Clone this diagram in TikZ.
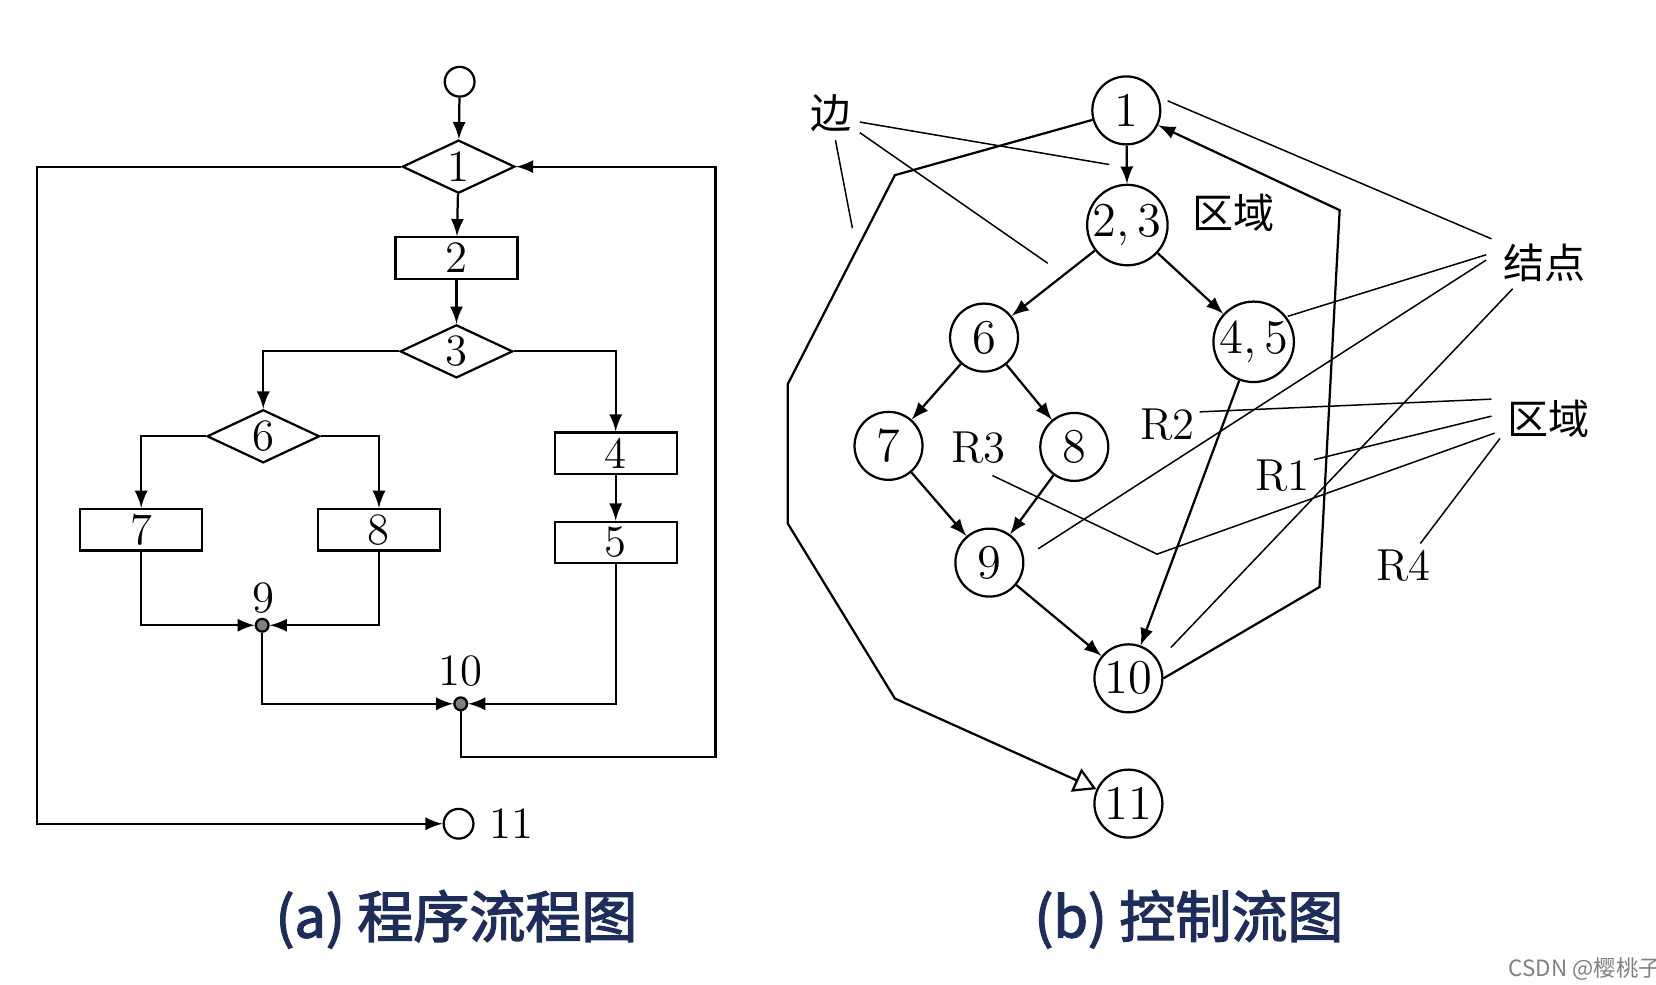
\documentclass[tikz,border=0pt]{standalone}
\usepackage{fontspec}
\newfontfamily\cjk{Noto Sans CJK SC}[AutoFakeBold=2.5]
\usetikzlibrary{arrows,shapes.geometric}
\definecolor{navy}{RGB}{31,45,90}
\begin{document}
\begin{tikzpicture}[x=0.01cm,y=-0.01cm,>=latex,semithick]
  \tikzstyle{every node}=[font=\fontsize{12}{12}\selectfont]
  \tikzstyle{dia}=[diamond,draw,aspect=2.2,minimum width=1.06cm,minimum height=0.5cm,inner sep=0pt]
  \tikzstyle{box}=[rectangle,draw,minimum width=1.15cm,minimum height=0.39cm,inner sep=0pt]
  \tikzstyle{dot}=[circle,draw,fill=gray,minimum size=0.12cm,inner sep=0pt]
  \tikzstyle{state}=[circle,draw,minimum size=0.64cm,inner sep=0pt,font=\fontsize{13}{13}\selectfont]
  \tikzstyle{ptr}=[thin]
  \useasboundingbox (0,0) rectangle (1560,927);

  % (a) program flowchart
  \node[circle,draw,minimum size=0.28cm,inner sep=0pt] (S) at (433,77) {};
  \node[dia] (D1) at (432,157) {1};
  \node[box] (B2) at (430,243) {2};
  \node[dia] (D3) at (430,331) {3};
  \node[dia] (D6) at (248,411) {6};
  \node[box] (B7) at (133,499) {7};
  \node[box] (B8) at (357,499) {8};
  \node[box] (B4) at (580,427) {4};
  \node[box] (B5) at (580,511) {5};
  \node[dot] (P9) at (247,589) {};
  \node[dot] (P10) at (434,663) {};
  \node at (248,563) {9};
  \node at (434,632) {10};
  \node[circle,draw,minimum size=0.28cm,inner sep=0pt] (E) at (432,776) {};
  \node[anchor=west] at (448,776) {11};

  \draw[->] (S) -- (D1);
  \draw[->] (D1) -- (B2);
  \draw[->] (B2) -- (D3);
  \draw[->] (D3.west) -| (D6.north);
  \draw[->] (D3.east) -| (B4.north);
  \draw[->] (D6.west) -| (B7.north);
  \draw[->] (D6.east) -| (B8.north);
  \draw[->] (B4) -- (B5);
  \draw[->] (B7.south) |- (P9);
  \draw[->] (B8.south) |- (P9);
  \draw[->] (P9) |- (P10);
  \draw[->] (B5.south) |- (P10);
  \draw[->] (P10) -- (434,713) -- (674,713) -- (674,157) -- (D1.east);
  \draw[->] (D1.west) -- (35,157) -- (35,776) -- (E);

  % (b) control flow graph
  \node[state] (n1) at (1061,104) {1};
  \node[state] (n23) at (1062,212) {2,\,3};
  \node[state] (n6) at (927,318) {6};
  \node[state] (n45) at (1181,322) {4,\,5};
  \node[state] (n7) at (837,420) {7};
  \node[state] (n8) at (1012,421) {8};
  \node[state] (n9) at (932,530) {9};
  \node[state] (n10) at (1063,639) {10};
  \node[state] (n11) at (1063,757) {11};

  \draw[->] (n1) -- (n23);
  \draw[->] (n23) -- (n6);
  \draw[->] (n23) -- (n45);
  \draw[->] (n6) -- (n7);
  \draw[->] (n6) -- (n8);
  \draw[->] (n7) -- (n9);
  \draw[->] (n8) -- (n9);
  \draw[->] (n9) -- (n10);
  \draw[->] (n45) -- (n10);
  \draw[->] (n10.east) -- (1243,553) -- (1262,198) -- (n1);
  \draw[-open triangle 60] (n1) -- (843,165) -- (742,362) -- (742,493) -- (843,658) -- (n11);

  % labels
  \node[font=\cjk\fontsize{11}{11}\selectfont] (edge) at (783,107) {边};
  \node[font=\cjk\fontsize{11}{11}\selectfont] at (1162,201) {区域};
  \node[font=\cjk\fontsize{11}{11}\selectfont] (vert) at (1455,248) {结点};
  \node[font=\cjk\fontsize{11}{11}\selectfont] (reg) at (1459,395) {区域};
  \node at (1100,400) {R2};
  \node at (1208,448) {R1};
  \node at (922,422) {R3};
  \node at (1322,533) {R4};

  \draw[ptr] (810,115) -- (1045,155);
  \draw[ptr] (810,125) -- (987,248);
  \draw[ptr] (787,132) -- (803,215);
  \draw[ptr] (1100,95) -- (1405,225);
  \draw[ptr] (1213,298) -- (1400,240);
  \draw[ptr] (978,517) -- (1400,245);
  \draw[ptr] (1103,610) -- (1425,272);
  \draw[ptr] (1130,388) -- (1405,376);
  \draw[ptr] (1238,433) -- (1405,392);
  \draw[ptr] (935,448) -- (1090,522) -- (1408,408);
  \draw[ptr] (1338,512) -- (1413,413);

  % captions
  \node[font=\bfseries\cjk\fontsize{15}{15}\selectfont,text=navy] at (430,866) {(a) 程序流程图};
  \node[font=\bfseries\cjk\fontsize{15}{15}\selectfont,text=navy] at (1120,866) {(b) 控制流图};
  \node[font=\cjk\fontsize{6}{6}\selectfont,text=gray] at (1493,913) {CSDN @樱桃子};
\end{tikzpicture}
\end{document}
